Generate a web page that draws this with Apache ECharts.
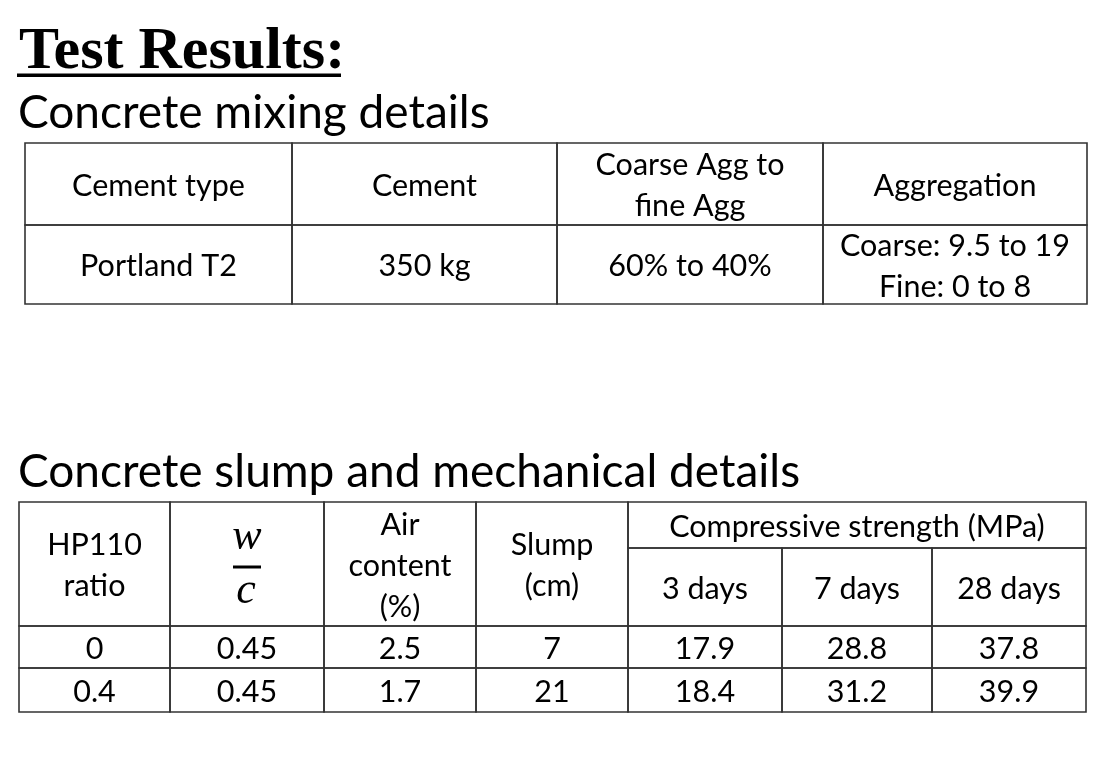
<!DOCTYPE html>
<html><head><meta charset="utf-8">
<script src="https://cdn.jsdelivr.net/npm/echarts@6/dist/echarts.min.js"></script>
<style>html,body{margin:0;padding:0;background:#fff}#c{width:1104px;height:772px}</style>
</head><body><div id="c"></div>
<script>
// ---------- data ----------
const pageTitle = 'Test Results:';
const mixTitle = 'Concrete mixing details';
const mixHeaders = ['Cement type', 'Cement', 'Coarse Agg to\nfine Agg', 'Aggregation'];
const mixValues = ['Portland T2', '350 kg', '60% to 40%', 'Coarse: 9.5 to 19\nFine: 0 to 8'];
const slumpTitle = 'Concrete slump and mechanical details';
const slumpHeaders = ['HP110\nratio', 'w/c', 'Air\ncontent\n(%)', 'Slump\n(cm)'];
const strengthHeader = 'Compressive strength (MPa)';
const strengthAges = ['3 days', '7 days', '28 days'];
const hp110Ratio = ['0', '0.4'];
const wcRatio = ['0.45', '0.45'];
const airContent = ['2.5', '1.7'];
const slumpCm = ['7', '21'];
const strength3d = ['17.9', '18.4'];
const strength7d = ['28.8', '31.2'];
const strength28d = ['37.8', '39.9'];

// ---------- layout ----------
const W = 1104, H = 772;
const t1Cols = [25, 292, 557, 823, 1087];
const t1Rows = [143, 225, 304];
const t2Cols = [19, 170, 324, 476, 628, 782, 932, 1086];
const t2Rows = [502, 548, 626, 668, 712];
const BODY_FONT = 'Lato';
const CELL_SIZE = 30.5;
const LINE_H = 41;
const LINE_COLOR = '#333';

// build cells: [x0, x1, y0, y1, text, kind]
const cells = [];
function addCell(cols, rows, c0, c1, r0, r1, text, kind) {
  cells.push([cols[c0], cols[c1], rows[r0], rows[r1], text, kind || 'text']);
}
mixHeaders.forEach((t, i) => addCell(t1Cols, t1Rows, i, i + 1, 0, 1, t));
mixValues.forEach((t, i) => addCell(t1Cols, t1Rows, i, i + 1, 1, 2, t));
slumpHeaders.forEach((t, i) => addCell(t2Cols, t2Rows, i, i + 1, 0, 2, t, t === 'w/c' ? 'frac' : 'text'));
addCell(t2Cols, t2Rows, 4, 7, 0, 1, strengthHeader);
strengthAges.forEach((t, i) => addCell(t2Cols, t2Rows, 4 + i, 5 + i, 1, 2, t));
const cols2 = [hp110Ratio, wcRatio, airContent, slumpCm, strength3d, strength7d, strength28d];
for (let r = 0; r < hp110Ratio.length; r++) {
  cols2.forEach((col, c) => addCell(t2Cols, t2Rows, c, c + 1, 2 + r, 3 + r, col[r]));
}

const chart = echarts.init(document.getElementById('c'), null, { renderer: 'canvas' });

function renderItem(params, api) {
  const x0 = api.value(0), x1 = api.value(1), y0 = api.value(2), y1 = api.value(3);
  const d = cells[params.dataIndex];
  const p0 = api.coord([x0, y0]);
  const p1 = api.coord([x1, y1]);
  const cx = (p0[0] + p1[0]) / 2, cy = (p0[1] + p1[1]) / 2;
  const children = [{
    type: 'rect',
    shape: { x: p0[0], y: p0[1], width: p1[0] - p0[0], height: p1[1] - p0[1] },
    style: { fill: 'none', stroke: LINE_COLOR, lineWidth: 1.6 }
  }];
  if (d[5] === 'frac') {
    const parts = d[4].split('/');
    const mathFont = 'italic 44px "Liberation Serif"';
    children.push({
      type: 'text', style: { text: parts[0], x: cx, y: cy - 27, align: 'center', verticalAlign: 'middle',
        font: mathFont, fill: '#000' }
    });
    children.push({
      type: 'rect', shape: { x: cx - 14, y: cy + 1.5, width: 28, height: 3 },
      style: { fill: '#000' }
    });
    children.push({
      type: 'text', style: { text: parts[1], x: cx - 1, y: cy + 27, align: 'center', verticalAlign: 'middle',
        font: mathFont, fill: '#000' }
    });
  } else {
    children.push({
      type: 'text',
      style: { text: d[4], x: cx, y: cy + 2, align: 'center', verticalAlign: 'middle',
        font: CELL_SIZE + 'px ' + BODY_FONT, lineHeight: LINE_H, fill: '#000' }
    });
  }
  return { type: 'group', children: children };
}

chart.setOption({
  animation: false,
  backgroundColor: '#fff',
  grid: { left: 0, right: 0, top: 0, bottom: 0 },
  xAxis: { type: 'value', min: 0, max: W, show: false },
  yAxis: { type: 'value', min: 0, max: H, inverse: true, show: false },
  graphic: [
    { type: 'text', left: 19, top: 22, style: { text: pageTitle, font: 'bold 60px "Liberation Serif"', fill: '#000' } },
    { type: 'rect', shape: { x: 17, y: 73.5, width: 324, height: 3.5 }, style: { fill: '#000' } },
    { type: 'text', left: 18, top: 90, style: { text: mixTitle, font: '46px ' + BODY_FONT, fill: '#000' } },
    { type: 'text', left: 18, top: 449, style: { text: slumpTitle, font: '46px ' + BODY_FONT, fill: '#000' } }
  ],
  series: [{
    type: 'custom',
    coordinateSystem: 'cartesian2d',
    renderItem: renderItem,
    data: cells.map(c => [c[0], c[1], c[2], c[3]]),
    encode: { x: [0, 1], y: [2, 3] },
    silent: true
  }]
});
</script></body></html>
